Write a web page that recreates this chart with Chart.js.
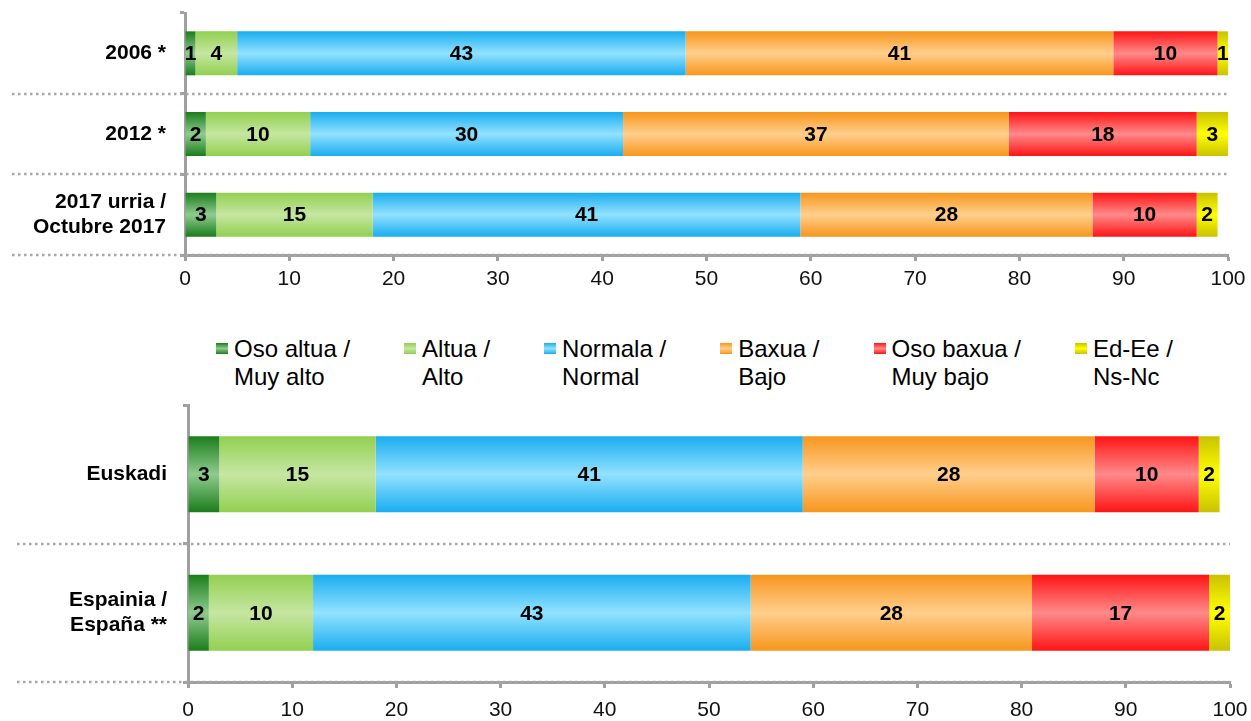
<!DOCTYPE html>
<html>
<head>
<meta charset="utf-8">
<script src="https://cdn.jsdelivr.net/npm/chart.js@4.4.1/dist/chart.umd.min.js"></script>
<style>
  html, body { margin: 0; padding: 0; background: #fff; }
  body { width: 1251px; height: 721px; position: relative; overflow: hidden;
         font-family: "Liberation Sans", Arial, sans-serif; }
  #topBox { position: absolute; left: 0; top: 0; width: 1251px; height: 300px; }
  #bottomBox { position: absolute; left: 0; top: 390px; width: 1251px; height: 331px; }
  #legend { position: absolute; left: 216px; top: 335px; display: flex; gap: 54px;
            font-size: 24px; line-height: 28px; color: #000; white-space: nowrap; }
  .item { display: flex; align-items: flex-start; }
  .swatch { width: 12px; height: 11px; margin: 8px 6px 0 0; }
</style>
</head>
<body>
<div id="topBox"><canvas id="topChart"></canvas></div>
<div id="legend"></div>
<div id="bottomBox"><canvas id="bottomChart"></canvas></div>

<script>
// categories
const topCats = ["2006 *", "2012 *", ["2017 urria /", "Octubre 2017"]];
const bottomCats = ["Euskadi", ["Espainia /", "España **"]];

// series names (legend, two lines each)
const seriesNames = [
  ["Oso altua /", "Muy alto"],
  ["Altua /", "Alto"],
  ["Normala /", "Normal"],
  ["Baxua /", "Bajo"],
  ["Oso baxua /", "Muy bajo"],
  ["Ed-Ee /", "Ns-Nc"],
];

// top chart values (%)
const topVeryHigh = [1, 2, 3];
const topHigh = [4, 10, 15];
const topNormal = [43, 30, 41];
const topLow = [41, 37, 28];
const topVeryLow = [10, 18, 10];
const topNsNc = [1, 3, 2];

// bottom chart values (%) - bar lengths as drawn
const bottomVeryHigh = [3, 2];
const bottomHigh = [15, 10];
const bottomNormal = [41, 42];
const bottomLow = [28, 27];
const bottomVeryLow = [10, 17];
const bottomNsNc = [2, 2];
// printed labels that differ from bar length (rounding in the source)
const bottomNormalShown = [41, 43];
const bottomLowShown = [28, 28];

// x axis
const axisMin = 0;
const axisMax = 100;
const axisStep = 10;

// gradient colours per series: edge (top/bottom) and middle
const edgeColors = ["#1b7d1b", "#92d050", "#19adef", "#f7961c", "#ff1414", "#c9c200"];
const midColors = ["#8fcb8f", "#c6e6a2", "#93e2ff", "#ffcf8d", "#ff8a8a", "#ffff00"];

const FONT = '"Liberation Sans", Arial, sans-serif';
const AXIS_GREY = "#a0a0a0";

// vertical gradient for each bar, computed from the category scale
const barFill = (si, barPct) => (ctx) => {
  const chart = ctx.chart;
  const y = chart.scales.y;
  if (!y || !chart.chartArea || ctx.type !== "data") return edgeColors[si];
  const band = (y.bottom - y.top) / chart.data.labels.length;
  const half = (band * barPct) / 2;
  const cy = y.getPixelForValue(ctx.dataIndex);
  const g = chart.ctx.createLinearGradient(0, cy - half, 0, cy + half);
  g.addColorStop(0, edgeColors[si]);
  g.addColorStop(0.5, midColors[si]);
  g.addColorStop(1, edgeColors[si]);
  return g;
};

// dotted separators between rows, running out to the left
const dottedRows = {
  id: "dottedRows",
  beforeDatasetsDraw(chart, args, opts) {
    const y = chart.scales.y;
    const ctx = chart.ctx;
    const n = chart.data.labels.length;
    ctx.save();
    ctx.strokeStyle = "#a6a6a6";
    ctx.lineWidth = 2.5;
    ctx.setLineDash([2.5, 3.5]);
    for (let i = 1; i <= n; i++) {
      const py = Math.round(y.getPixelForValue(i - 0.5)) + (opts.shift || 0);
      ctx.beginPath();
      ctx.moveTo(opts.startX, py);
      ctx.lineTo(chart.chartArea.right, py);
      ctx.stroke();
    }
    ctx.restore();
  },
};

// value labels in the middle of each segment
const segmentLabels = {
  id: "segmentLabels",
  afterDatasetsDraw(chart) {
    const ctx = chart.ctx;
    ctx.save();
    ctx.font = "bold 21px " + FONT;
    ctx.fillStyle = "#000";
    ctx.textAlign = "center";
    ctx.textBaseline = "middle";
    chart.data.datasets.forEach((ds, di) => {
      const meta = chart.getDatasetMeta(di);
      const shown = ds.shown || ds.data;
      meta.data.forEach((bar, i) => {
        ctx.fillText(String(shown[i]), (bar.x + bar.base) / 2, bar.y + 1);
      });
    });
    ctx.restore();
  },
};

const makeChart = (id, cats, series, cfg) => {
  const datasets = series.map((s, si) => ({
    label: seriesNames[si].join(" "),
    data: s.data,
    shown: s.shown,
    backgroundColor: barFill(si, cfg.barPct),
    borderWidth: 0,
    barPercentage: cfg.barPct,
    categoryPercentage: 1,
  }));

  return new Chart(document.getElementById(id), {
    type: "bar",
    data: { labels: cats, datasets },
    plugins: [dottedRows, segmentLabels],
    options: {
      indexAxis: "y",
      animation: false,
      responsive: true,
      maintainAspectRatio: false,
      layout: {
        autoPadding: false,
        padding: { top: cfg.padTop, right: cfg.padRight, bottom: 0, left: 0 },
      },
      plugins: {
        legend: { display: false },
        tooltip: { enabled: false },
        dottedRows: { startX: cfg.dotStart, shift: 0 },
      },
      scales: {
        x: {
          stacked: true,
          min: axisMin,
          max: axisMax,
          ticks: {
            stepSize: axisStep,
            color: "#111",
            padding: cfg.xLabelPad,
            font: { family: FONT, size: 21 },
          },
          grid: {
            drawOnChartArea: false,
            drawTicks: true,
            tickLength: 6,
            tickWidth: 3,
            tickColor: AXIS_GREY,
          },
          border: { display: true, color: AXIS_GREY, width: 3 },
          afterFit: (s) => {
            s.height = cfg.xHeight;
            s.paddingLeft = 0;
            s.paddingRight = 0;
          },
        },
        y: {
          stacked: true,
          ticks: {
            color: "#000",
            padding: cfg.yLabelPad,
            font: { family: FONT, size: 21, weight: "bold", lineHeight: 1.15 },
          },
          grid: {
            offset: true,
            drawOnChartArea: false,
            drawTicks: true,
            tickLength: 5,
            tickWidth: 3,
            tickColor: AXIS_GREY,
          },
          border: { display: true, color: AXIS_GREY, width: 3 },
          afterFit: (s) => {
            s.width = cfg.yWidth;
            s.paddingTop = 0;
            s.paddingBottom = 0;
          },
        },
      },
    },
  });
};

makeChart(
  "topChart",
  topCats,
  [
    { data: topVeryHigh },
    { data: topHigh },
    { data: topNormal },
    { data: topLow },
    { data: topVeryLow },
    { data: topNsNc },
  ],
  { yWidth: 185, xHeight: 45, padTop: 13, padRight: 23, barPct: 0.545, xLabelPad: 6, yLabelPad: 14, dotStart: 12 }
);

makeChart(
  "bottomChart",
  bottomCats,
  [
    { data: bottomVeryHigh },
    { data: bottomHigh },
    { data: bottomNormal, shown: bottomNormalShown },
    { data: bottomLow, shown: bottomLowShown },
    { data: bottomVeryLow },
    { data: bottomNsNc },
  ],
  { yWidth: 188, xHeight: 39, padTop: 15, padRight: 21, barPct: 0.55, xLabelPad: 10, yLabelPad: 16, dotStart: 17 }
);

// shared legend between the two charts
const legendEl = document.getElementById("legend");
seriesNames.forEach((lines, si) => {
  const item = document.createElement("div");
  item.className = "item";
  const sw = document.createElement("div");
  sw.className = "swatch";
  sw.style.background = `linear-gradient(${edgeColors[si]}, ${midColors[si]}, ${edgeColors[si]})`;
  const txt = document.createElement("div");
  txt.innerHTML = lines.join("<br>");
  item.appendChild(sw);
  item.appendChild(txt);
  legendEl.appendChild(item);
});
</script>
</body>
</html>
